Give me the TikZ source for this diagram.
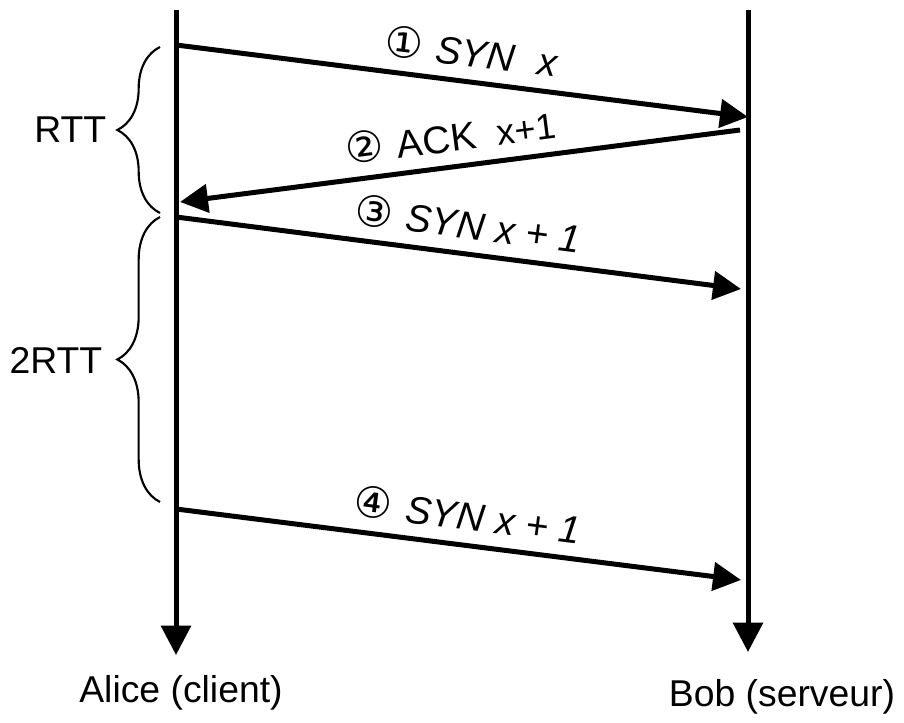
\documentclass[tikz,border=0pt]{standalone}
\usepackage{fontspec}
\setmainfont{Liberation Sans}
\newfontfamily\circfont{DejaVu Sans}
\usetikzlibrary{arrows.meta,decorations.pathreplacing}
\newcommand\circnum[1]{{\circfont\fontsize{32}{38}\selectfont #1}\hspace{10pt}}
\tikzset{
  lifeline/.style={line width=3.75pt,-{Triangle[length=22pt,width=22pt]}},
  msg/.style={line width=3.75pt,-{Triangle[length=21pt,width=21pt]}},
  msglabel/.style={font=\fontsize{29}{34}\selectfont,sloped,above=6pt,pos=.51},
  rttbrace/.style={decorate,decoration={brace,amplitude=32pt},line width=1.6pt},
  who/.style={font=\fontsize{28}{33}\selectfont}
}
\begin{document}
\begin{tikzpicture}[x=0.75pt,y=-0.75pt]
  \useasboundingbox (0,0) rectangle (904,723);
  % lifelines
  \coordinate (alicetop) at (176,10);
  \coordinate (aliceend) at (176,655);
  \coordinate (bobtop) at (748,10);
  \coordinate (bobend) at (748,652);
  \draw[lifeline] (alicetop) -- (aliceend);
  \draw[lifeline] (bobtop) -- (bobend);
  \node[who] (alice) at (181,693) {Alice (client)};
  \node[who] (bob) at (782,697) {Bob (serveur)};
  % messages
  \coordinate (a1) at (176,45);
  \coordinate (b1) at (748,117);
  \coordinate (b2) at (740,130);
  \coordinate (a2) at (180,202);
  \foreach \n/\ya/\yb in {3/217/289,4/509/580}{
    \coordinate (a\n) at (176,\ya);
    \coordinate (b\n) at (741,\yb);
  }
  \draw[msg] (a1) -- node[msglabel] (syn) {\circnum{①}{\itshape SYN\hspace{18pt}x}} (b1);
  \draw[msg] (b2) -- node[msglabel] (ack) {\circnum{②}ACK\hspace{16pt}{\fontsize{27}{30}\selectfont x+1}} (a2);
  \draw[msg] (a3) -- node[msglabel] (syna) {\circnum{③}{\itshape SYN\hspace{9pt}x + 1}} (b3);
  \draw[msg] (a4) -- node[msglabel] (synb) {\circnum{④}{\itshape SYN\hspace{9pt}x + 1}} (b4);
  % braces
  \coordinate (rtttop) at (160,47);
  \coordinate (rttbot) at (160,213);
  \coordinate (twotop) at (160,217);
  \coordinate (twobot) at (160,502);
  \draw[rttbrace] (rttbot) -- (rtttop);
  \draw[rttbrace] (twobot) -- (twotop);
  \node[who,anchor=east] (rtt) at (111,130) {RTT};
  \node[who,anchor=east] (twortt) at (107,360) {2RTT};
\end{tikzpicture}
\end{document}
